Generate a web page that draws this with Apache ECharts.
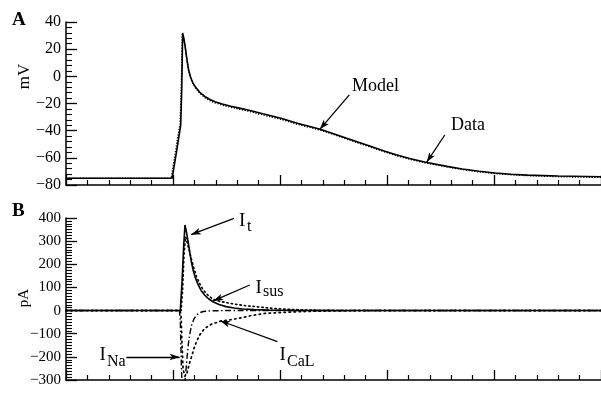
<!DOCTYPE html>
<html><head><meta charset="utf-8">
<script src="https://cdn.jsdelivr.net/npm/echarts@6/dist/echarts.min.js"></script>
<style>html,body{margin:0;padding:0;background:#fff}#c{width:601px;height:396px}</style>
</head><body><div id="c"></div>
<script>
// ---- Panel A: membrane potential (mV) vs time (ms) ----
const timeModel = [0,49.6,50.6,51.6,52.6,53.6,54.1,54.5,55.0,55.7,56.5,57.3,58.3,59.3,60.4,62.5,65,67.3,69.6,73,77,81,85,92,100.4,108.1,118.8,125,131.2,137,143,149,154.3,161,168.1,178,185.2,193,200.5,208,215.7,230,250];
const modelV = [-75,-75,-65.5,-56,-46,-36,-8,31.9,28.5,21.8,12.5,4.7,-1,-4.8,-7.6,-11.8,-15,-17.1,-18.7,-20.4,-22,-23.4,-24.8,-27.6,-30.9,-34.6,-39,-42.2,-45.6,-48.7,-51.9,-55.1,-57.8,-60.7,-63.3,-66.3,-68.2,-69.9,-71.2,-72.1,-72.7,-73.4,-73.9];
const timeData = [0,49.2,50.2,51.2,52.2,53.3,53.9,54.4,55.0,55.7,56.5,57.3,58.3,59.3,60.4,62.5,65,67.3,69.6,73,77,81,85,92,100.4,108.1,118.8,125,131.2,137,143,149,154.3,161,168.1,178,185.2,193,200.5,208,215.7,230,250];
const dataV = [-75,-75,-65,-55,-45,-35,-5,31,28,21.2,12,4,-1.6,-5.4,-8.3,-12.5,-15.8,-17.9,-19.5,-21.2,-22.8,-24.2,-25.6,-28.4,-31.6,-35.3,-39.6,-42.8,-46.2,-49.3,-52.5,-55.7,-58.4,-61.2,-63.8,-66.7,-68.6,-70.3,-71.6,-72.5,-73.1,-73.9,-74.4];

// ---- Panel B: currents (pA) vs time (ms) ----
const timeIt = [0,53.4,54.2,55.0,55.6,56.4,57.2,57.9,58.6,59.4,60.5,61.8,63.2,64.8,66.6,68.7,71.5,74.8,78.5,82.5,88,95,110,130,250];
const currentIt = [0,0,120,280,370,334,290,248,210,175,140,111,86,67,51,38,26,17,11,7,4,2,0.5,0,0];
const timeIsus = [0,53.8,54.5,55.2,55.9,56.7,57.7,58.7,59.8,61,62.5,64.1,66.3,68.7,71.7,77.5,83,89.6,95,100.4,110,120.5,135,250];
const currentIsus = [0,0,90,250,318,291,255,219,182,147,116,89,67,49,40,30,22,16,11,7,3,1,0,0];
const timeINa = [0,53.0,53.4,53.8,54.2,54.8,55.6,56.4,57.1,57.9,58.7,59.8,61,62.5,64.1,68,75,250];
const currentINa = [0,0,-40,-200,-320,-480,-307,-221,-149,-100,-62,-36,-19,-9,-4,-1,0,0];
const timeICaL = [0,53.4,53.8,54.2,54.7,55.5,56.5,57.6,58.7,59.8,61,62.5,64.8,67.9,72.5,77.9,82.5,86.4,93,103.5,115,130,145,250];
const currentICaL = [0,0,-30,-140,-250,-285,-272,-230,-199,-163,-134,-105,-77,-59,-45,-38,-30,-22,-12,-7,-3,-1,0,0];

// ---- tick labels ----
const yTicksA = [40,20,0,-20,-40,-60,-80];
const yTicksB = [400,300,200,100,0,-100,-200,-300];
const xRange = [0,250];
const xMajor = 50;

const INK = '#000';
const FONT = 'Liberation Serif';
const pairs = (t, v) => t.map((x, i) => [x, v[i]]);

function xAxisCfg(gi) {
  return {
    type: 'value', gridIndex: gi, min: xRange[0], max: xRange[1], interval: xMajor,
    axisLine: { show: true, onZero: false, lineStyle: { color: INK, width: 1.5 } },
    axisTick: { show: true, inside: true, length: 10, lineStyle: { color: INK, width: 1.3 } },
    minorTick: { show: true, splitNumber: 5, length: 5, lineStyle: { color: INK, width: 1.2 } },
    axisLabel: { show: false }, splitLine: { show: false }, minorSplitLine: { show: false }
  };
}
function yAxisCfg(gi, ticks, minorSplit, fs) {
  return {
    type: 'value', gridIndex: gi, min: Math.min(...ticks), max: Math.max(...ticks),
    interval: ticks[0] - ticks[1],
    axisLine: { show: true, onZero: false, lineStyle: { color: INK, width: 1.5 } },
    axisTick: { show: true, inside: true, length: 11, lineStyle: { color: INK, width: 1.3 } },
    minorTick: { show: true, splitNumber: minorSplit, length: 6, lineStyle: { color: INK, width: 1.1 } },
    axisLabel: { margin: 5, fontFamily: FONT, fontSize: fs, color: INK,
      formatter: v => String(v).replace('-', '\u2212') },
    splitLine: { show: false }, minorSplitLine: { show: false }
  };
}
const arrowEnd = { symbol: 'arrow', symbolSize: [5, 10] };
function arrows(list) {
  return {
    silent: true, animation: false, symbol: ['none', 'arrow'],
    label: { show: false }, emphasis: { disabled: true },
    lineStyle: { color: INK, width: 1.3, type: 'solid' },
    data: list.map(a => [{ coord: a[0], symbol: 'none' }, Object.assign({ coord: a[1] }, arrowEnd)])
  };
}
function lineSeries(xi, t, v, style, z, extra) {
  return Object.assign({
    type: 'line', xAxisIndex: xi, yAxisIndex: xi, data: pairs(t, v),
    showSymbol: false, symbol: 'none', clip: true, z: z,
    lineStyle: Object.assign({ color: '#000' }, style), emphasis: { disabled: true }
  }, extra || {});
}

const chart = echarts.init(document.getElementById('c'), null, { renderer: 'canvas' });
const txt = (text, x, y, fs, opts) => Object.assign({
  type: 'text', x: x, y: y, silent: true,
  style: Object.assign({ text: text, fontFamily: FONT, fontSize: fs, fill: INK, align: 'left', verticalAlign: 'middle' }, (opts && opts.style) || {})
}, (opts && opts.el) || {});

chart.setOption({
  animation: false,
  backgroundColor: '#fff',
  textStyle: { fontFamily: FONT },
  grid: [
    { left: 66, right: -6, top: 22, height: 163 },
    { left: 66, right: -6, top: 218, height: 162 }
  ],
  xAxis: [xAxisCfg(0), xAxisCfg(1)],
  yAxis: [yAxisCfg(0, yTicksA, 5, 16), yAxisCfg(1, yTicksB, 8, 15)],
  series: [
    lineSeries(0, timeData, dataV, { width: 1.4, type: [1.2, 1.6] }, 2),
    lineSeries(0, timeModel, modelV, { width: 1.6 }, 3, {
      markLine: arrows([[[132.4, -13.7], [118.6, -39.0]], [[177.0, -43.2], [168.5, -63.3]]])
    }),
    lineSeries(1, timeIsus, currentIsus, { width: 1.6, type: [1.4, 3.0], cap: 'round' }, 2),
    lineSeries(1, timeICaL, currentICaL, { width: 1.7, type: [1.4, 3.6], cap: 'round' }, 2),
    lineSeries(1, timeINa, currentINa, { width: 1.4, type: [6, 2.5, 1.5, 2.5] }, 2),
    lineSeries(1, timeIt, currentIt, { width: 1.6 }, 3, {
      markLine: arrows([
        [[78.5, 398], [58.4, 328]],
        [[85.9, 110.6], [68.8, 41.5]],
        [[28.2, -200.5], [53.1, -200.5]],
        [[98.8, -134], [72.0, -44]]
      ])
    })
  ],
  graphic: [
    txt('A', 12, 20, 19, { style: { fontWeight: 'bold' } }),
    txt('B', 12, 211, 19, { style: { fontWeight: 'bold' } }),
    txt('mV', 25, 76.5, 17, { style: { align: 'center' }, el: { rotation: Math.PI / 2 } }),
    txt('pA', 24.5, 298, 15, { style: { align: 'center' }, el: { rotation: Math.PI / 2 } }),
    txt('Model', 352, 86, 18),
    txt('Data', 451, 125, 18),
    txt('I', 239, 221, 19), txt('t', 247, 227, 16),
    txt('I', 255.5, 288, 19), txt('sus', 263, 292, 16),
    txt('I', 99.5, 355, 19), txt('Na', 107, 362, 16),
    txt('I', 279.5, 355, 19), txt('CaL', 287, 362, 16)
  ]
});
</script>
</body></html>
